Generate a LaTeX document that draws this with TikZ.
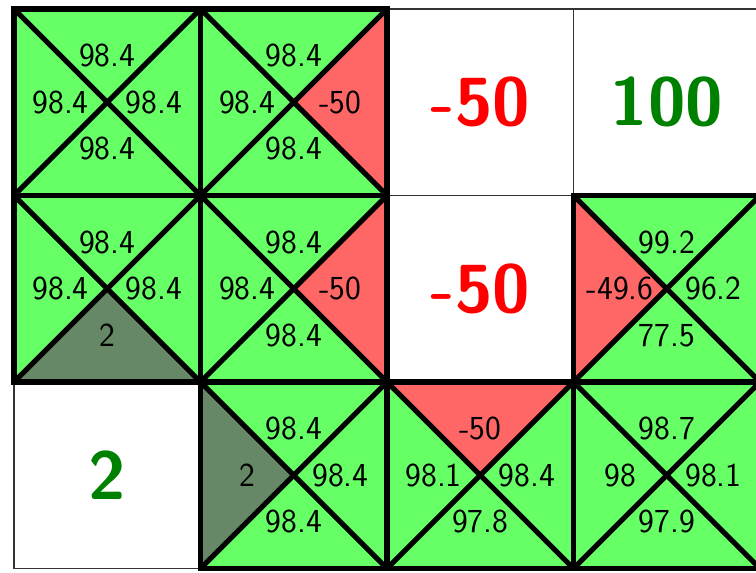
\documentclass[tikz,border=0pt]{standalone}
\definecolor{qgreen}{HTML}{66FF66}
\definecolor{qred}{HTML}{FF6666}
\definecolor{qdark}{HTML}{668866}
\definecolor{tgreen}{HTML}{008000}
\definecolor{tred}{HTML}{FF0000}
\begin{document}
\begin{tikzpicture}[x=0.5pt,y=-0.5pt,
  val/.style={font=\sffamily\fontsize{16.8}{19}\selectfont, inner sep=0pt},
  big/.style={font=\sffamily\bfseries\fontsize{34}{40}\selectfont, inner sep=0pt},
  gridline/.style={line width=2.6pt, black},
  thinline/.style={line width=0.9pt, black!80}]
\useasboundingbox (0,0) rectangle (756,573);
\clip (0,0) rectangle (756,573);
\begin{scope}[shift={(14,9)}, x=93.25pt, y=-93.25pt]
  % white cells
  \foreach \i/\j/\c/\v [count=\n] in {2/0/tred/-50, 3/0/tgreen/100, 2/1/tred/-50, 0/2/tgreen/2}{
    \draw[thinline] (\i,\j) rectangle (\i+1,\j+1);
    \node[big, text=\c] (w\n) at (\i+.5,\j+.5) {\v};
  }
  % Q-cells: fills
  \foreach \i/\j/\tc/\lc/\rc/\bc in {
    0/0/qgreen/qgreen/qgreen/qgreen,
    1/0/qgreen/qgreen/qred/qgreen,
    0/1/qgreen/qgreen/qgreen/qdark,
    1/1/qgreen/qgreen/qred/qgreen,
    3/1/qgreen/qred/qgreen/qgreen,
    1/2/qgreen/qdark/qgreen/qgreen,
    2/2/qred/qgreen/qgreen/qgreen,
    3/2/qgreen/qgreen/qgreen/qgreen}{
    \fill[\tc] (\i,\j) -- (\i+1,\j) -- (\i+.5,\j+.5) -- cycle;
    \fill[\lc] (\i,\j) -- (\i,\j+1) -- (\i+.5,\j+.5) -- cycle;
    \fill[\rc] (\i+1,\j) -- (\i+1,\j+1) -- (\i+.5,\j+.5) -- cycle;
    \fill[\bc] (\i,\j+1) -- (\i+1,\j+1) -- (\i+.5,\j+.5) -- cycle;
  }
  % Q-cells: lines
  \foreach \i/\j in {0/0,1/0,0/1,1/1,3/1,1/2,2/2,3/2}{
    \draw[gridline] (\i,\j) rectangle (\i+1,\j+1);
    \draw[gridline] (\i,\j) -- (\i+1,\j+1);
    \draw[gridline] (\i+1,\j) -- (\i,\j+1);
  }
  % Q-cells: labels
  \foreach \i/\j/\tv/\lv/\rv/\bv [count=\n] in {
    0/0/98.4/98.4/98.4/98.4,
    1/0/98.4/98.4/-50/98.4,
    0/1/98.4/98.4/98.4/2,
    1/1/98.4/98.4/-50/98.4,
    3/1/99.2/-49.6/96.2/77.5,
    1/2/98.4/2/98.4/98.4,
    2/2/-50/98.1/98.4/97.8,
    3/2/98.7/98/98.1/97.9}{
    \node[val] (t\n) at (\i+.5,\j+.25) {\tv};
    \node[val] (l\n) at (\i+.25,\j+.5) {\lv};
    \node[val] (r\n) at (\i+.75,\j+.5) {\rv};
    \node[val] (b\n) at (\i+.5,\j+.75) {\bv};
  }
\end{scope}
\end{tikzpicture}
\end{document}
